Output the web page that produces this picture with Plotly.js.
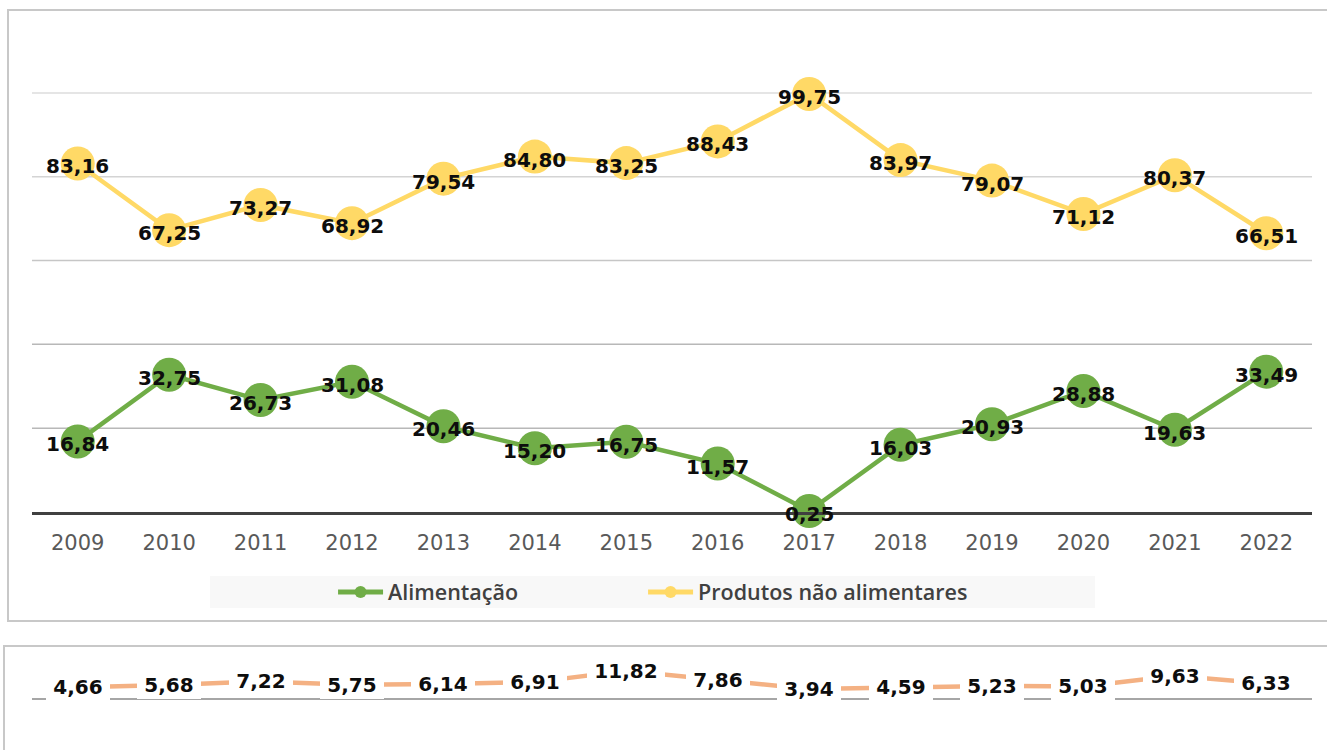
<!DOCTYPE html>
<html>
<head>
<meta charset="utf-8">
<script src="https://cdn.plot.ly/plotly-3.0.1.min.js"></script>
<style>html,body{margin:0;padding:0;background:#fff;}#chart{width:1327px;height:750px;}</style>
</head>
<body>
<div id="chart"></div>
<script>
var years = ["2009","2010","2011","2012","2013","2014","2015","2016","2017","2018","2019","2020","2021","2022"];
var alimentacao = [16.84, 32.75, 26.73, 31.08, 20.46, 15.20, 16.75, 11.57, 0.25, 16.03, 20.93, 28.88, 19.63, 33.49];
var naoAlimentares = [83.16, 67.25, 73.27, 68.92, 79.54, 84.80, 83.25, 88.43, 99.75, 83.97, 79.07, 71.12, 80.37, 66.51];
var terceiraSerie = [4.66, 5.68, 7.22, 5.75, 6.14, 6.91, 11.82, 7.86, 3.94, 4.59, 5.23, 5.03, 9.63, 6.33];
var gridValues = [20, 40, 60, 80, 100];
var gridColors = ["#B8B8B8", "#B8B8B8", "#C6C6C6", "#D4D4D4", "#DCDCDC"];

function fmt(v){ return v.toFixed(2).replace('.', ','); }

var labelFont = {family: "DejaVu Sans", size: 20, color: "#0D0D0D", weight: 700};

var traces = [
  {
    x: years, y: alimentacao, name: "Alimentação", type: "scatter",
    mode: "lines+markers",
    line: {color: "#70AD47", width: 4.5},
    marker: {color: "#70AD47", size: 34},
    cliponaxis: false, hoverinfo: "skip",
    xaxis: "x", yaxis: "y", legend: "legend"
  },
  {
    x: years, y: naoAlimentares, name: "Produtos não alimentares", type: "scatter",
    mode: "lines+markers",
    line: {color: "#FFD966", width: 4.5},
    marker: {color: "#FFD966", size: 34},
    cliponaxis: false, hoverinfo: "skip",
    xaxis: "x", yaxis: "y", legend: "legend2"
  },
  {
    x: years, y: terceiraSerie, name: "Outros", type: "scatter",
    mode: "lines", showlegend: false,
    line: {color: "#F4B183", width: 4.5},
    cliponaxis: false, hoverinfo: "skip",
    xaxis: "x2", yaxis: "y2"
  }
];

var annotations = [];
[naoAlimentares, alimentacao].forEach(function(series){
  series.forEach(function(v, i){
    annotations.push({
      x: i, y: v, xref: "x", yref: "y",
      text: fmt(v), showarrow: false,
      xanchor: "center", yanchor: "middle", yshift: -3,
      font: labelFont
    });
  });
});
terceiraSerie.forEach(function(v, i){
  var t = fmt(v);
  annotations.push({
    x: i, y: v, xref: "x2", yref: "y2",
    text: t, showarrow: false,
    xanchor: "center", yanchor: "middle",
    font: labelFont,
    bgcolor: "#FFFFFF", borderpad: 0, borderwidth: 0,
    width: t.length > 4 ? 78 : 64, height: 28
  });
});

var shapes = [
  {type: "rect", xref: "paper", yref: "paper", x0: -0.01875, x1: 1.0125, y0: 0.172, y1: 0.98667,
   line: {color: "#C8C8C8", width: 2}, fillcolor: "rgba(0,0,0,0)", layer: "below"},
  {type: "rect", xref: "paper", yref: "paper", x0: -0.021875, x1: 1.0125, y0: -0.02, y1: 0.13867,
   line: {color: "#C8C8C8", width: 2}, fillcolor: "rgba(0,0,0,0)", layer: "below"},
  {type: "rect", xref: "paper", yref: "paper", x0: 0.1391, x1: 0.8305, y0: 0.18933, y1: 0.232,
   line: {width: 0}, fillcolor: "#F8F8F8", layer: "below"}
];
gridValues.forEach(function(g, i){
  shapes.push({type: "line", xref: "paper", yref: "y", x0: 0, x1: 1, y0: g, y1: g,
    line: {color: gridColors[i], width: 1.5}, layer: "below"});
});

var legendFont = {family: "Open Sans", size: 21.5, color: "#404040", weight: 600};

var layout = {
  width: 1327, height: 750,
  margin: {l: 32, r: 15, t: 0, b: 0},
  paper_bgcolor: "#FFFFFF", plot_bgcolor: "rgba(0,0,0,0)",
  showlegend: true,
  xaxis: {
    type: "category", range: [-0.5, 13.5], anchor: "y",
    showgrid: false, zeroline: false,
    showline: true, linecolor: "#404040", linewidth: 2.5,
    ticks: "", tickfont: {family: "DejaVu Sans", size: 21, color: "#595959"},
    ticklabelstandoff: 10, fixedrange: true
  },
  yaxis: {
    domain: [0.317333, 0.932], range: [0, 110],
    showgrid: false, zeroline: false, showticklabels: false, showline: false, fixedrange: true
  },
  xaxis2: {
    type: "category", range: [-0.5, 13.5], anchor: "y2",
    showgrid: false, zeroline: false, showticklabels: false,
    showline: true, linecolor: "#A6A6A6", linewidth: 2, ticks: "", fixedrange: true
  },
  yaxis2: {
    domain: [0.069333, 0.115333], range: [0, 15],
    showgrid: false, zeroline: false, showticklabels: false, showline: false, fixedrange: true
  },
  legend: {
    orientation: "h", x: 0.2352, xanchor: "left", y: 0.2107, yanchor: "middle",
    bgcolor: "rgba(0,0,0,0)", itemwidth: 45, itemsizing: "constant",
    font: legendFont
  },
  legend2: {
    orientation: "h", x: 0.4774, xanchor: "left", y: 0.2107, yanchor: "middle",
    bgcolor: "rgba(0,0,0,0)", itemwidth: 45, itemsizing: "constant",
    font: legendFont
  },
  shapes: shapes,
  annotations: annotations,
  hovermode: false
};

Plotly.newPlot("chart", traces, layout, {displayModeBar: false, staticPlot: true});
</script>
</body>
</html>
